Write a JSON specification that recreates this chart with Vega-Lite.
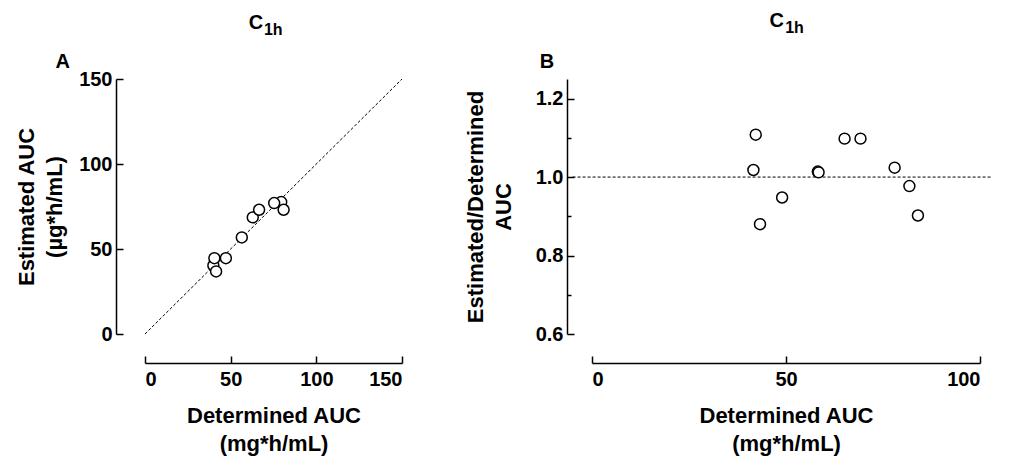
{
  "$schema": "https://vega.github.io/schema/vega-lite/v6.json",
  "background": "white",
  "padding": {"left": 15, "top": 11, "right": 5, "bottom": 5},
  "config": {
    "font": "Liberation Sans",
    "view": {"stroke": null},
    "axis": {
      "labelFont": "Liberation Sans", "labelFontWeight": "bold", "labelFontSize": 20, "labelColor": "black",
      "titleFont": "Liberation Sans", "titleFontWeight": "bold", "titleFontSize": 22, "titleColor": "black",
      "domainColor": "black", "tickColor": "black", "grid": false, "domainWidth": 1.5, "tickWidth": 1.5,
      "titleLineHeight": 28
    },
    "text": {"font": "Liberation Sans", "fontWeight": "bold", "color": "black", "baseline": "alphabetic"},
    "concat": {"spacing": 60}
  },
  "datasets": {
    "a": [
      {"det": 39.9, "est": 40.3},
      {"det": 79.5, "est": 77.6},
      {"det": 40.5, "est": 44.6},
      {"det": 41.5, "est": 36.8},
      {"det": 47.2, "est": 44.6},
      {"det": 56.5, "est": 56.8},
      {"det": 62.9, "est": 68.6},
      {"det": 66.6, "est": 73.1},
      {"det": 75.4, "est": 77.0},
      {"det": 80.9, "est": 73.1}
    ],
    "b": [
      {"det": 42.2, "ratio": 1.108},
      {"det": 41.6, "ratio": 1.018},
      {"det": 43.3, "ratio": 0.880},
      {"det": 49.0, "ratio": 0.948},
      {"det": 58.2, "ratio": 1.014},
      {"det": 58.4, "ratio": 1.012},
      {"det": 65.1, "ratio": 1.098},
      {"det": 69.2, "ratio": 1.098},
      {"det": 78.0, "ratio": 1.024},
      {"det": 81.8, "ratio": 0.977},
      {"det": 84.0, "ratio": 0.902}
    ],
    "diag": [{"x": 0, "y": 0}, {"x": 150, "y": 150}],
    "ref": [{"x": -5, "y": 1}, {"x": 103, "y": 1}],
    "labA": [{"x": -48, "y": 156.3, "t": "A"}],
    "labB": [{"x": -11.6, "y": 1.278, "t": "B"}],
    "titA": [{"x": 69.0, "y": 179.4, "t": "C"}],
    "subA": [{"x": 69.4, "y": 176.1, "t": "1h"}],
    "titB": [{"x": 49.5, "y": 1.382, "t": "C"}],
    "subB": [{"x": 49.8, "y": 1.367, "t": "1h"}]
  },
  "hconcat": [
    {
      "width": 257,
      "height": 255,
      "encoding": {
        "x": {"type": "quantitative", "scale": {"domain": [0, 150], "nice": false, "zero": false},
          "axis": {"title": ["Determined AUC", "(mg*h/mL)"], "values": [0, 50, 100, 150], "offset": 29, "tickSize": -7, "labelPadding": 13, "titlePadding": 16}},
        "y": {"type": "quantitative", "scale": {"domain": [0, 150], "nice": false, "zero": false},
          "axis": {"title": ["Estimated AUC", "(µg*h/mL)"], "values": [0, 50, 100, 150], "offset": 29, "tickSize": -7, "labelPadding": 11, "titlePadding": 12}}
      },
      "layer": [
        {"data": {"name": "diag"}, "mark": {"type": "line", "color": "black", "strokeWidth": 1, "strokeDash": [3, 2]},
          "encoding": {"x": {"field": "x"}, "y": {"field": "y"}}},
        {"data": {"name": "a"}, "mark": {"type": "point", "shape": "circle", "fill": "white", "stroke": "black", "strokeWidth": 1.5, "opacity": 1, "fillOpacity": 1, "size": 120},
          "encoding": {"x": {"field": "det"}, "y": {"field": "est"}}},
        {"data": {"name": "labA"}, "mark": {"type": "text", "fontSize": 20, "align": "center"},
          "encoding": {"x": {"field": "x"}, "y": {"field": "y"}, "text": {"field": "t"}}},
        {"data": {"name": "titA"}, "mark": {"type": "text", "fontSize": 20, "align": "right"},
          "encoding": {"x": {"field": "x"}, "y": {"field": "y"}, "text": {"field": "t"}}},
        {"data": {"name": "subA"}, "mark": {"type": "text", "fontSize": 16, "align": "left"},
          "encoding": {"x": {"field": "x"}, "y": {"field": "y"}, "text": {"field": "t"}}}
      ]
    },
    {
      "width": 388,
      "height": 255,
      "resolve": {"axis": {"y": "independent"}},
      "encoding": {
        "x": {"type": "quantitative", "scale": {"domain": [0, 100], "nice": false, "zero": false},
          "axis": {"title": ["Determined AUC", "(mg*h/mL)"], "values": [0, 50, 100], "offset": 29, "tickSize": -7, "labelPadding": 13, "titlePadding": 16}}
      },
      "layer": [
        {"data": {"name": "ref"}, "mark": {"type": "line", "color": "black", "strokeWidth": 1, "strokeDash": [3, 2]},
          "encoding": {"x": {"field": "x"},
            "y": {"field": "y", "type": "quantitative", "scale": {"domain": [0.6, 1.25], "nice": false, "zero": false},
              "axis": {"title": ["Estimated/Determined", "AUC"], "values": [0.6, 0.8, 1.0, 1.2], "format": ".1f", "offset": 25, "tickSize": -7, "labelPadding": 11, "titlePadding": 20}}}},
        {"data": {"name": "ref"}, "mark": {"type": "line", "opacity": 0, "strokeWidth": 0},
          "encoding": {"x": {"field": "x"},
            "y": {"field": "y", "type": "quantitative",
              "axis": {"orient": "left", "title": null, "values": [0.7, 0.9, 1.1], "labels": false, "domain": false, "offset": 25, "tickSize": -4, "tickWidth": 1.5}}}},
        {"data": {"name": "b"}, "mark": {"type": "point", "shape": "circle", "fill": "white", "stroke": "black", "strokeWidth": 1.5, "opacity": 1, "fillOpacity": 1, "size": 120},
          "encoding": {"x": {"field": "det"}, "y": {"field": "ratio", "type": "quantitative", "axis": null}}},
        {"data": {"name": "labB"}, "mark": {"type": "text", "fontSize": 20, "align": "center"},
          "encoding": {"x": {"field": "x"}, "y": {"field": "y", "type": "quantitative", "axis": null}, "text": {"field": "t"}}},
        {"data": {"name": "titB"}, "mark": {"type": "text", "fontSize": 20, "align": "right"},
          "encoding": {"x": {"field": "x"}, "y": {"field": "y", "type": "quantitative", "axis": null}, "text": {"field": "t"}}},
        {"data": {"name": "subB"}, "mark": {"type": "text", "fontSize": 16, "align": "left"},
          "encoding": {"x": {"field": "x"}, "y": {"field": "y", "type": "quantitative", "axis": null}, "text": {"field": "t"}}}
      ]
    }
  ]
}
